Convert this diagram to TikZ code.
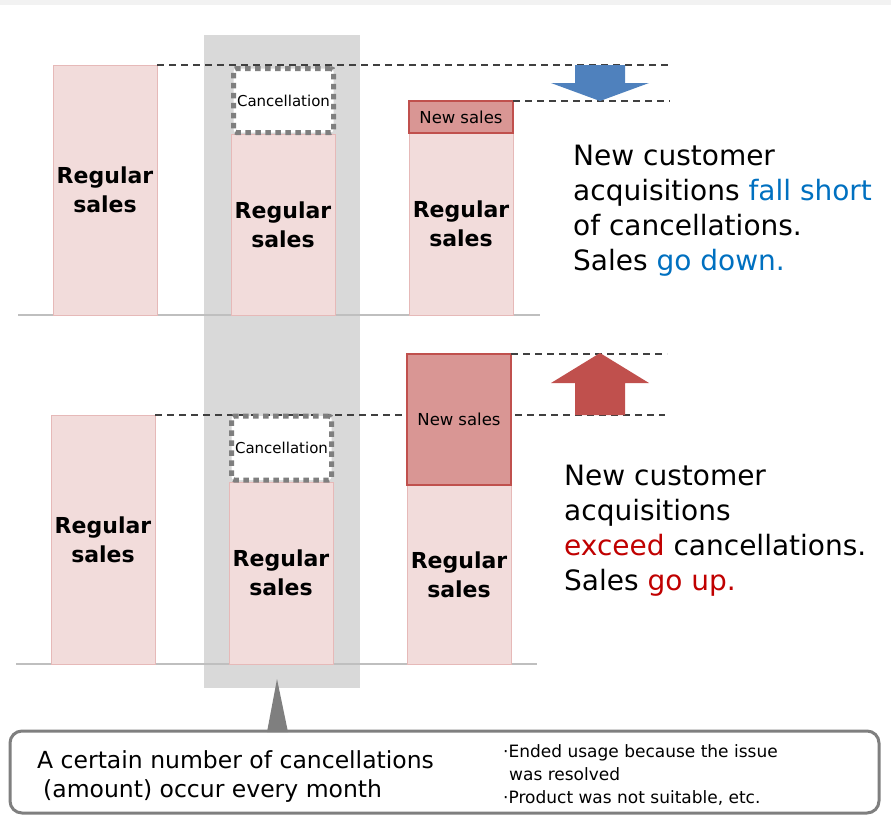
\documentclass[tikz,border=0pt]{standalone}
\usepackage{fontspec}
\setmainfont{DejaVu Sans}
\usepackage{xcolor}
\usetikzlibrary{positioning,calc}

\definecolor{regfill}{HTML}{F2DCDB}
\definecolor{regdraw}{HTML}{E6B9B8}
\definecolor{newfill}{HTML}{D99694}
\definecolor{newdraw}{HTML}{C0504D}
\definecolor{colgray}{HTML}{D9D9D9}
\definecolor{dashgray}{HTML}{404040}
\definecolor{basegray}{HTML}{BFBFBF}
\definecolor{cancelgray}{HTML}{7F7F7F}
\definecolor{arrowblue}{HTML}{4F81BD}
\definecolor{arrowred}{HTML}{C0504D}
\definecolor{textblue}{HTML}{0070C0}
\definecolor{textred}{HTML}{C00000}
\definecolor{topband}{HTML}{F2F2F2}

\begin{document}
\begin{tikzpicture}[
  x=1pt,y=-1pt,
  regbar/.style ={draw=regdraw,fill=regfill,line width=1pt,align=center,
                  minimum width=104pt,inner sep=0pt,outer sep=0pt,
                  font=\bfseries\fontsize{22}{29}\selectfont},
  newbar/.style ={draw=newdraw,fill=newfill,line width=1.4pt,align=center,
                  minimum width=104pt,inner sep=0pt,outer sep=0pt,
                  font=\fontsize{16.5}{20}\selectfont},
  cancel/.style ={draw=cancelgray,fill=white,line width=5pt,
                  dash pattern=on 5.5pt off 4.5pt,rounded corners=3pt,
                  minimum width=100pt,minimum height=64pt,inner sep=0pt,
                  font=\fontsize{15}{18}\selectfont},
  dline/.style  ={dashgray,line width=1.3pt,dash pattern=on 7pt off 5pt},
  baseln/.style ={basegray,line width=1.8pt},
  remark/.style ={anchor=north west,align=left,inner sep=0pt,
                  font=\fontsize{28}{35}\selectfont},
  callout/.style={draw=cancelgray,line width=3pt,rounded corners=12pt},
  ]

  \useasboundingbox (0,0) rectangle (891,815);
  \fill[topband] (0,0) rectangle (891,5);

  % ===== GRAY COLUMN (cancellations every month) =====
  \fill[colgray] (204,35) rectangle (360,688);

  % ===== TOP ROW: new sales fall short =====
  \coordinate (tl) at (18,315);
  \coordinate (tr) at (540,315);
  \draw[baseln] (tl) -- (tr);
  \node[regbar,minimum height=250pt] (ra1) at (105,190) {Regular\\sales};
  \node[regbar,minimum height=181pt] (rb1) at (283,224.5) {Regular\\sales};
  \node[cancel] (cb1) at (283.5,100.5) {Cancellation};
  \coordinate (d1) at (670,65);
  \coordinate (d2) at (670,101);
  \draw[dline] (ra1.north east) -- (d1);
  \node[regbar,minimum height=182pt] (rc1) at (461,224) {Regular\\sales};
  \node[newbar,minimum height=32pt]  (nc1) at (461,117) {New\hspace{5pt}sales};
  \draw[dline] (nc1.north east) -- (d2);
  \fill[arrowblue] (575,65) -- (625,65) -- (625,83) -- (649,83)
                   -- (600,101) -- (551,83) -- (575,83) -- cycle;
  \node[remark] (txt1) at (573,144.5)
    {New customer\\acquisitions \textcolor{textblue}{fall short}\\
     of cancellations.\\Sales \textcolor{textblue}{go down.}};

  % ===== BOTTOM ROW: new sales exceed =====
  \coordinate (bl) at (16,664);
  \coordinate (br) at (537,664);
  \draw[baseln] (bl) -- (br);
  \node[regbar,minimum height=249pt] (ra2) at (103,539.5) {Regular\\sales};
  \coordinate (d3) at (665,415);
  \coordinate (d4) at (667,354);
  \draw[dline] (ra2.north east) -- (d3);
  \node[regbar,minimum height=182pt] (rb2) at (281,573) {Regular\\sales};
  \node[cancel] (cb2) at (281.5,448) {Cancellation};
  \node[regbar,minimum height=179pt] (rc2) at (459,574.5) {Regular\\sales};
  \node[newbar,minimum height=131pt] (nc2) at (459,419.5) {New\hspace{5pt}sales};
  \draw[dline] (nc2.north east) -- (d4);
  \fill[arrowred] (575,415) -- (625,415) -- (625,383) -- (649,383)
                  -- (600,353) -- (551,383) -- (575,383) -- cycle;
  \node[remark] (txt2) at (564,464.5)
    {New customer\\acquisitions\\
     \textcolor{textred}{exceed} cancellations.\\Sales \textcolor{textred}{go up.}};

  % ===== CALLOUT =====
  \draw[callout,fill=white] (10,731) rectangle (879,813);
  \coordinate (tip) at (277,679);
  \fill[cancelgray] (267,732) -- (tip) -- (288,732) -- cycle;
  \node[anchor=north west,align=left,inner sep=0pt,
        font=\fontsize{23.5}{29}\selectfont] (why) at (37,750)
    {A certain number of cancellations\\\hspace{6pt}(amount) occur every month};
  \node[anchor=north west,align=left,inner sep=0pt,
        font=\fontsize{17}{23}\selectfont] (eg) at (503,744)
    {·Ended usage because the issue\\\hspace{6pt}was resolved\\
     ·Product was not suitable, etc.};

\end{tikzpicture}
\end{document}
